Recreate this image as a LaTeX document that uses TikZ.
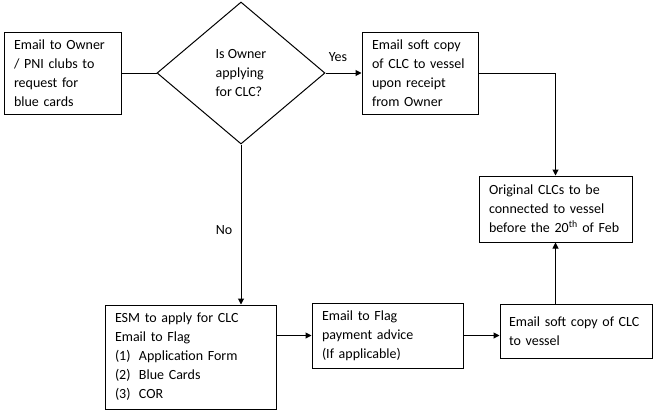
\documentclass[tikz,border=0pt]{standalone}
\usepackage{fontspec}
\setmainfont{Carlito}
\usetikzlibrary{shapes.geometric,arrows.meta}
\begin{document}
\begin{tikzpicture}[x=1pt,y=-1pt,
  every node/.style={font=\fontsize{14}{19}\selectfont},
  box/.style={draw,line width=1pt,rectangle,inner xsep=0pt,inner ysep=0pt,align=left},
  link/.style={line width=1pt},
  arr/.style={line width=1pt,-{Triangle[width=6pt,length=6pt]}}]
\useasboundingbox (0,0) rectangle (658,416);
\fill[white] (0,0) rectangle (658,416);
\node[box,minimum width=117pt,minimum height=82pt,text width=97pt] (b1) at (62.5,73)
  {Email to Owner\\/ PNI clubs to\\request for\\blue cards};
\node[draw,line width=1pt,diamond,inner sep=0pt,minimum width=168pt,minimum height=142pt,align=left] (d) at (241,73)
  {Is Owner\\applying\\for CLC?};
\node[box,minimum width=116pt,minimum height=82pt,text width=96pt] (b2) at (420,73)
  {Email soft copy\\of CLC to vessel\\upon receipt\\from Owner};
\node[box,minimum width=153pt,minimum height=66pt,text width=133pt] (b4) at (555.5,209)
  {Original CLCs to be\\connected to vessel\\before the 20\textsuperscript{th} of Feb};
\node[box,minimum width=171pt,minimum height=104pt,text width=151pt] (esm) at (190.5,357)
  {ESM to apply for CLC\\Email to Flag\\\makebox[24pt][l]{(1)}Application Form\\\makebox[24pt][l]{(2)}Blue Cards\\\makebox[24pt][l]{(3)}COR};
\node[box,minimum width=151pt,minimum height=65pt,text width=131pt] (flag) at (387.5,335.5)
  {Email to Flag\\payment advice\\(If applicable)};
\node[box,minimum width=152pt,minimum height=54pt,text width=134pt] (last) at (576,331)
  {Email soft copy of CLC\\to vessel\\[3pt]};
\draw[link] (b1.east) -- (d.west);
\draw[arr] (d.east) -- (b2.west);
\node (yes) at (338,57) {Yes};
\draw[arr] (b2.east) -| (b4.north);
\draw[arr] (d.south) -- (d.south |- esm.north);
\node (no) at (224,230) {No};
\draw[arr] (flag.west -| esm.east) -- (flag.west);
\draw[arr] (flag.east) -- (flag.east -| last.west);
\draw[arr] (b4.south |- last.north) -- (b4.south);
\end{tikzpicture}
\end{document}
